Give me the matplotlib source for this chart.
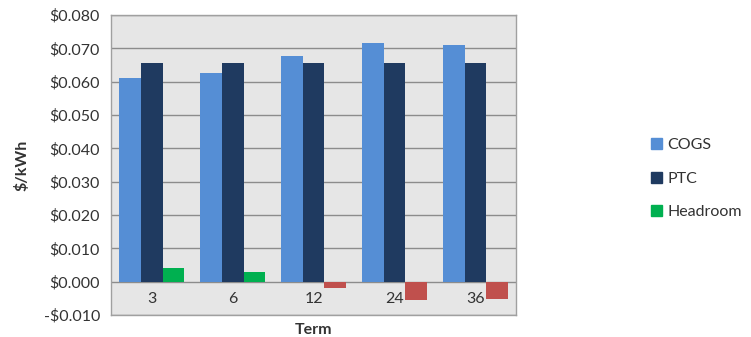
import matplotlib
matplotlib.use('Agg')
import matplotlib.pyplot as plt
from matplotlib.patches import Patch
import numpy as np

plt.rcParams['font.family'] = ['Lato', 'DejaVu Sans']

terms = ['3', '6', '12', '24', '36']
cogs = [0.0612, 0.0626, 0.0677, 0.0715, 0.0711]
ptc = [0.0656, 0.0656, 0.0656, 0.0656, 0.0656]
headroom = [0.0041, 0.0029, -0.0019, -0.0055, -0.0051]

c_cogs = '#558ed5'
c_ptc = '#1f3a60'
c_pos = '#00b050'
c_neg = '#c0504d'
txt = '#333333'

fig = plt.figure(figsize=(7.51, 3.37), dpi=100)
ax = fig.add_axes([0.148, 0.065, 0.539, 0.89])
ax.set_facecolor('#e6e6e6')

x = np.arange(len(terms))
w = 0.27
ax.bar(x - w, cogs, w, color=c_cogs, zorder=3)
ax.bar(x, ptc, w, color=c_ptc, zorder=3)
ax.bar(x + w, headroom, w, color=[c_pos if v >= 0 else c_neg for v in headroom], zorder=3)

ax.set_xlim(-0.5, len(terms) - 0.5)
ax.set_ylim(-0.010, 0.080)
yt = np.arange(-0.010, 0.0801, 0.010)
ax.set_yticks(yt)
ax.set_yticklabels([('-$%.3f' % abs(v)) if v < -1e-9 else '$%.3f' % abs(v) for v in yt],
                   fontsize=11.5, color=txt)
ax.grid(axis='y', color='#8c8c8c', linewidth=1, zorder=1)
ax.tick_params(axis='y', length=0, pad=8)
ax.set_xticks([])
for s in ax.spines.values():
    s.set_color('#a0a0a0')
    s.set_linewidth(1)

# category labels sit below the zero line
for i, t in enumerate(terms):
    ax.text(i, -0.0051, t, ha='center', va='center', fontsize=11.5, color=txt)

ax.set_ylabel('$/kWh', fontsize=11.5, fontweight='bold', color=txt, labelpad=10)
fig.text(0.5 * (0.148 + 0.687), 0.022, 'Term', ha='center', va='center',
         fontsize=11.5, fontweight='bold', color=txt)

handles = [Patch(color=c_cogs, label='COGS'),
           Patch(color=c_ptc, label='PTC'),
           Patch(color=c_pos, label='Headroom')]
fig.legend(handles=handles, loc='center left', bbox_to_anchor=(0.848, 0.47),
           frameon=False, fontsize=11.5, handlelength=0.7, handleheight=0.7,
           handletextpad=0.3, labelspacing=1.2, labelcolor=txt)

fig.savefig('out.png', dpi=100)
